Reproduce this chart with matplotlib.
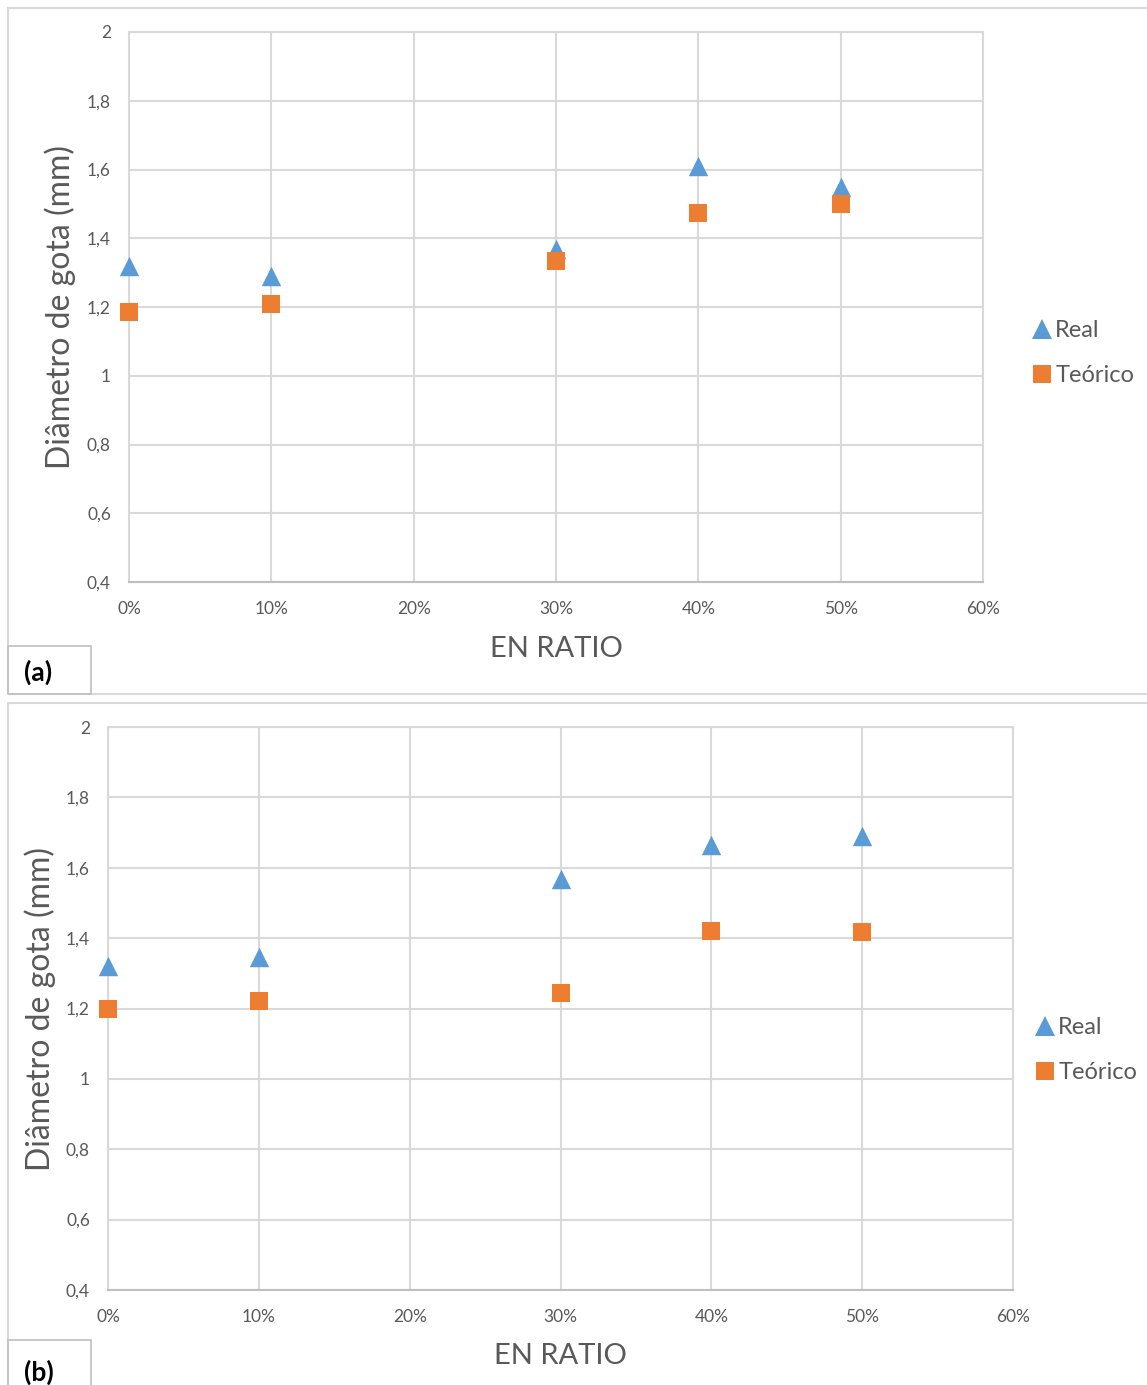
import matplotlib.pyplot as plt
from matplotlib.patches import Rectangle
from matplotlib.lines import Line2D
from matplotlib.ticker import FuncFormatter, MultipleLocator

# EN ratio (fraction) and droplet diameter (mm)
ratio = [0.0, 0.1, 0.3, 0.4, 0.5]
real_a = [1.32, 1.29, 1.37, 1.61, 1.55]
teorico_a = [1.185, 1.21, 1.333, 1.473, 1.50]
real_b = [1.32, 1.346, 1.567, 1.665, 1.69]
teorico_b = [1.20, 1.22, 1.244, 1.42, 1.416]

BLUE = '#5B9BD5'
ORANGE = '#ED7D31'
GRID = '#d9d9d9'
TXT = '#595959'

plt.rcParams['font.family'] = ['Lato', 'DejaVu Sans']

W, H = 1147, 1385
fig = plt.figure(figsize=(W / 100, H / 100), dpi=100)


def fx(px):
    return px / W


def fy(py):
    return 1 - py / H


def panel(box, real, teo, leg_xy, ylab_xy, xlab_xy, frame, tag, tagbox):
    l, t, r, b = box
    ax = fig.add_axes([fx(l), fy(b), fx(r) - fx(l), fy(t) - fy(b)])
    ax.scatter(ratio, real, marker='^', s=14 ** 2, color=BLUE, zorder=3,
               linewidths=0, clip_on=False)
    ax.scatter(ratio, teo, marker='s', s=13.5 ** 2, color=ORANGE, zorder=3,
               linewidths=0, clip_on=False)
    ax.set_xlim(0, 0.6)
    ax.set_ylim(0.4, 2)
    ax.xaxis.set_major_locator(MultipleLocator(0.1))
    ax.yaxis.set_major_locator(MultipleLocator(0.2))
    ax.xaxis.set_major_formatter(FuncFormatter(lambda v, p: f"{v * 100:.0f}%"))
    ax.yaxis.set_major_formatter(FuncFormatter(lambda v, p: f"{v:.1f}".replace('.', ',').replace(',0', '')))
    ax.grid(True, color=GRID, lw=1.5)
    ax.set_axisbelow(True)
    for s in ['top', 'right', 'left']:
        ax.spines[s].set_color(GRID)
        ax.spines[s].set_linewidth(1.5)
    ax.spines['bottom'].set_color('#bfbfbf')
    ax.spines['bottom'].set_linewidth(1.5)
    ax.tick_params(length=0, labelsize=12.5, labelcolor=TXT)
    ax.tick_params(axis='x', pad=14)
    ax.tick_params(axis='y', pad=13)
    fig.text(fx(ylab_xy[0]), fy(ylab_xy[1]), 'Diâmetro de gota (mm)', rotation=90,
             ha='center', va='center', fontsize=23, color=TXT)
    fig.text(fx(xlab_xy[0]), fy(xlab_xy[1]), 'EN RATIO', ha='center', va='center',
             fontsize=21, color=TXT)
    handles = [Line2D([], [], marker='^', ls='', color=BLUE, markersize=14, mew=0),
               Line2D([], [], marker='s', ls='', color=ORANGE, markersize=13.5, mew=0)]
    fig.legend(handles, ['Real', 'Teórico'], loc='center left',
               bbox_to_anchor=(fx(leg_xy[0]), fy(leg_xy[1])), frameon=False,
               fontsize=17, labelcolor=TXT, handlelength=0.8, handletextpad=0.15,
               labelspacing=1.0, borderpad=0)
    # outer chart frame and tag box
    fl, ft, fr, fb = frame
    fig.patches.append(Rectangle((fx(fl), fy(fb)), fx(fr) - fx(fl), fy(ft) - fy(fb),
                                 transform=fig.transFigure, fill=False, ec=GRID, lw=1.5))
    tl, tt, tr, tb = tagbox
    fig.patches.append(Rectangle((fx(tl), fy(tb)), fx(tr) - fx(tl), fy(tt) - fy(tb),
                                 transform=fig.transFigure, fill=False, ec='#bfbfbf', lw=1.2))
    fig.text(fx(tl + 16), fy((tt + tb) / 2 + 2), tag, ha='left', va='center',
             fontsize=19, fontweight='bold', color='black')
    return ax


panel((129, 32, 983, 582), real_a, teorico_a, (1021, 353), (60, 307), (556, 649),
      (8, 8, 1160, 694), '(a)', (8, 646, 91, 694))
panel((108, 727, 1013, 1290), real_b, teorico_b, (1024, 1050), (40, 1009), (560, 1356),
      (8, 703, 1160, 1400), '(b)', (8, 1340, 91, 1400))

fig.savefig('out.png', dpi=100)
